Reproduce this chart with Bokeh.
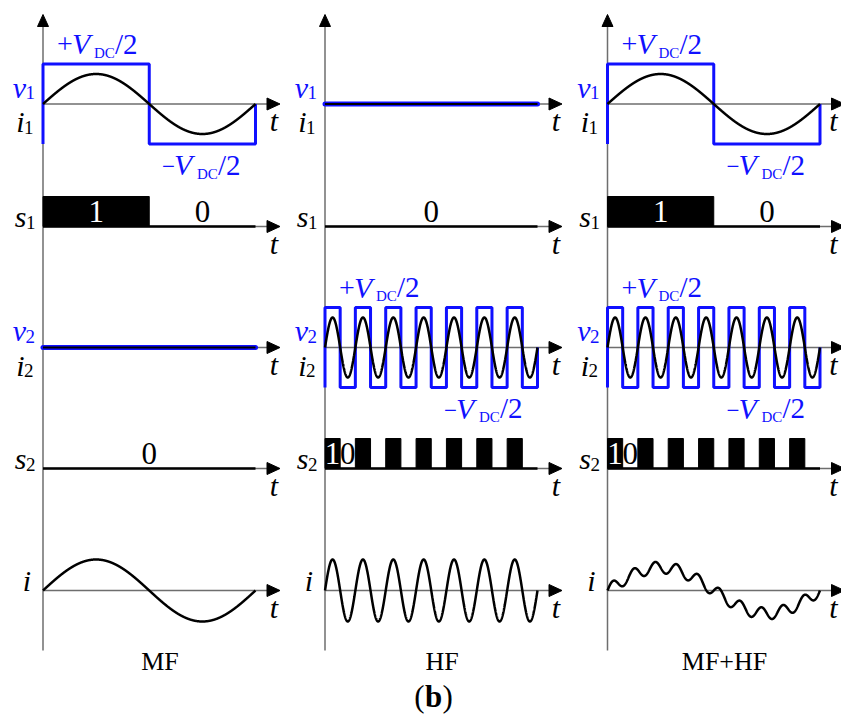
import numpy as np
from bokeh.plotting import figure
from bokeh.models import Range1d
from bokeh.core.properties import value
from bokeh.embed import file_html
from bokeh.resources import INLINE

# ---------------- data (schematic waveform parameters) ----------------
columns = ["MF", "HF", "MF+HF"]
v1_cycles = [1, 0, 1]          # square-wave cycles of v1 in the window (0 = v1 is zero)
i1_amp = [0.75, 0.0, 0.75]     # i1 amplitude relative to V_DC/2 level
s1_cycles = [1, 0, 1]          # switching cycles of s1
v2_cycles = [0, 7, 7]
i2_amp = [0.0, 0.75, 0.75]
s2_cycles = [0, 7, 7]
i_mf_amp = [1.0, 0.0, 0.74]    # MF component of i
i_hf_amp = [0.0, 1.0, 0.19]    # HF component of i
i_hf_cycles = [0, 7, 10]
s_on_text, s_off_text = "1", "0"
vdc_pos = ["+", "V", "DC", "/2"]
vdc_neg = ["\u2212", "V", "DC", "/2"]
row_vars = [("v", "1", "i", "1"), ("s", "1"), ("v", "2", "i", "2"), ("s", "2"), ("i", "")]
caption = ["(", "b", ")"]

# ---------------- layout / style ----------------
W, H = 841, 722
AX = [42.5, 324.5, 607.0]
ROWS = [103.5, 226.0, 347.0, 468.0, 590.0]
L = 212.5
SQ = 40.0
IS = 31.0
S_H = 30.0
GRAY = "#6e6e6e"
BLUE = "#1010ff"
FONT = "Liberation Serif"
LBL = 30
SUB = 19
MID = 0.35   # em-box middle above baseline

p = figure(width=W, height=H, output_backend="svg", toolbar_location=None,
           x_range=Range1d(0, W), y_range=Range1d(H, 0), min_border=0)
p.axis.visible = False
p.grid.visible = False
p.outline_line_color = None
p.background_fill_color = "white"
p.border_fill_color = "white"


def txt(x, base, s, size, color="black", style="normal", align="left"):
    p.text(x=[x], y=[base - MID * size], text=[s], text_font=value(FONT),
           text_font_size=f"{size}px", text_color=color, text_font_style=style,
           text_align=align, text_baseline="middle")


def var_label(ax, base, main, sub, color="black", right=7.0, subdy=2.0):
    if sub:
        txt(ax - right, base + subdy, sub, SUB, color, "normal", "right")
        txt(ax - right - 9, base, main, LBL, color, "italic", "right")
    else:
        txt(ax - right, base, main, LBL, color, "italic", "right")


def vdc_label(x0, base, parts, dxs, sign_size):
    sign, v, dc, tail = parts
    txt(x0 + dxs[0], base, sign, sign_size, BLUE)
    txt(x0 + dxs[1], base, v, 30, BLUE, "italic")
    txt(x0 + dxs[2], base + 4, dc, 15, BLUE)
    txt(x0 + dxs[3], base, tail, 29, BLUE)


def square(n):
    xs, ys = [0.0], [-1.0]
    h = 1.0 / (2 * n)
    for k in range(2 * n):
        lev = 1.0 if k % 2 == 0 else -1.0
        xs += [k * h, (k + 1) * h]
        ys += [lev, lev]
    xs.append(1.0)
    ys.append(0.0)
    return np.array(xs), np.array(ys)


t = np.linspace(0, 1, 2001)

for c, ax in enumerate(AX):
    # vertical axis with arrow
    p.line([ax, ax], [650, 25], line_color=GRAY, line_width=1.5)
    p.patch([ax - 5.5, ax, ax + 5.5], [26, 14, 26], fill_color="black", line_color="black")
    # horizontal axes
    for ay in ROWS:
        p.line([ax, ax + 225], [ay, ay], line_color=GRAY, line_width=1.5)
        p.patch([ax + 224, ax + 237, ax + 224], [ay - 6, ay, ay + 6],
                fill_color="black", line_color="black")
        txt(min(ax + 231, 833), ay + 27, "t", LBL, "black", "italic", "center")

    # v/i rows
    for r, cyc, iamp in ((0, v1_cycles[c], i1_amp[c]), (2, v2_cycles[c], i2_amp[c])):
        ay = ROWS[r]
        if cyc:
            xs, ys = square(cyc)
            p.line(ax + xs * L, ay - ys * SQ, line_color=BLUE, line_width=3)
            p.line(ax + t * L, ay - iamp * SQ * np.sin(2 * np.pi * cyc * t),
                   line_color="black", line_width=2.5)
            vdc_label(ax, ay - SQ - 10, vdc_pos, [14, 29, 51, 72], 28)
            vdc_label(ax, ay + SQ + 31, vdc_neg, [119, 131, 154, 175], 23)
        else:
            p.line([ax, ax + L], [ay, ay], line_color=BLUE, line_width=5, line_cap="round")
            p.line([ax, ax + L], [ay, ay], line_color="black", line_width=2)
        vn, vs, inn, ins = row_vars[r]
        var_label(ax, ay - 6.5, vn, vs, BLUE, right=8)
        var_label(ax, ay + 28, inn, ins, "black", right=9.5)

    # switching rows
    for r, cyc in ((1, s1_cycles[c]), (3, s2_cycles[c])):
        ay = ROWS[r]
        if cyc:
            h = 1.0 / (2 * cyc)
            lefts = np.arange(cyc) * 2 * h
            p.quad(left=ax + lefts * L, right=ax + (lefts + h) * L, top=ay - S_H, bottom=ay,
                   fill_color="black", line_color="black")
            p.line([ax, ax + L], [ay, ay], line_color="black", line_width=2.5)
            txt(ax + 0.5 * h * L, ay - 4, s_on_text, 31, "white", "normal", "center")
            txt(ax + 1.5 * h * L, ay - 4, s_off_text, 31, "black", "normal", "center")
        else:
            p.line([ax, ax + L], [ay, ay], line_color="black", line_width=2.5)
            txt(ax + 0.5 * L, ay - 4, s_off_text, 31, "black", "normal", "center")
        sn, ss = row_vars[r]
        var_label(ax, ay + 0.5, sn, ss, "black", right=7.5)

    # total current row
    ay = ROWS[4]
    iv = i_mf_amp[c] * np.sin(2 * np.pi * t)
    if i_hf_cycles[c]:
        iv = iv + i_hf_amp[c] * np.sin(2 * np.pi * i_hf_cycles[c] * t)
    p.line(ax + t * L, ay - iv * IS, line_color="black", line_width=2.5)
    var_label(ax, ay, row_vars[4][0], "", "black", right=12)

    # column caption
    txt(ax + 117, 670, columns[c], 26, "black", "normal", "center")

txt(424, 707, caption[0], 31, "black", "normal", "right")
txt(433, 707, caption[1], 31, "black", "bold", "center")
txt(442, 707, caption[2], 31, "black", "normal", "left")

open("out.html", "w").write(file_html(p, INLINE))
